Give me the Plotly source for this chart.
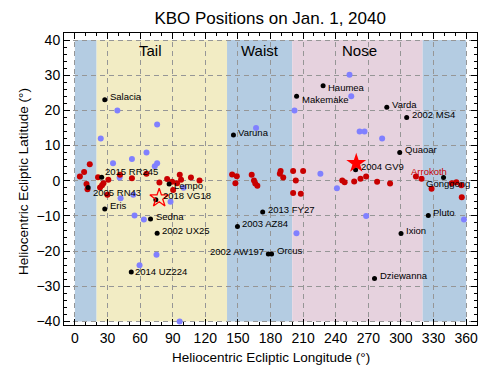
import plotly.graph_objects as go

# ---------------- data ----------------
named = ["Salacia", "2015 RR245", "2005 RN43", "Eris", "Lempo", "2018 VG18", "Sedna",
         "2002 UX25", "2014 UZ224", "Varuna", "Makemake", "Haumea", "2013 FY27",
         "2003 AZ84", "2002 AW197", "Orcus", "Varda", "2002 MS4", "Quaoar", "2004 GV9",
         "Gonggong", "Pluto", "Ixion", "Dziewanna"]
named_lon = [27.5, 24.7, 12.2, 27.5, 86.7, 74.5, 69.6, 75.7, 51.9, 145.9, 204.0, 228.4,
             172.8, 149.6, 178.0, 181.0, 287.0, 305.3, 298.9, 258.3, 339.2, 325.2, 300.1, 275.7]
named_lat = [23.0, 1.0, -1.9, -8.0, -0.9, -5.4, -10.9, -14.9, -25.9, 13.0, 24.0, 27.0,
             -8.9, -13.0, -20.8, -20.8, 20.9, 18.0, 8.0, 3.1, 0.9, -9.9, -15.0, -27.8]

red_lon = [4.6, 8.5, 13.7, 10.7, 11.6, 21.3, 23.2, 25.0, 26.3, 30.8, 29.9, 41.5, 52.5,
           65.9, 77.8, 84.9, 89.5, 90.4, 94.0, 96.5, 97.7, 106.8, 114.7, 144.7, 149.0,
           147.7, 162.7, 164.8, 166.0, 167.9, 188.6, 189.3, 191.7, 200.8, 210.0, 203.3,
           200.8, 207.9, 246.0, 248.2, 257.0, 262.8, 268.0, 278.1, 290.0, 319.0, 328.2,
           346.8, 351.0, 355.6, 356.0]
red_lat = [1.2, 2.5, 4.7, -0.9, -2.4, 1.0, -1.9, -1.3, -0.7, 0.3, -4.0, 1.7, 0.7,
           2.0, -0.5, 0.5, -0.3, -2.6, -0.7, 1.7, 0.3, 0.9, 0.1, 1.8, 1.3,
           -0.7, 1.7, 0.1, -0.8, -1.4, 2.0, 2.8, 0.9, 2.8, 2.8, 0.1,
           -3.5, -3.7, 0.1, -0.4, -0.2, 0.6, 1.2, -0.3, -0.8, 0.6, -2.3,
           -0.7, -0.4, -1.3, -4.7]

arrokoth_lon = [313.8]
arrokoth_lat = [1.2]

blue_lon = [39.1, 75.7, 23.8, 65.9, 52.5, 35.1, 75.7, 73.5, 41.2, 53.7, 42.1, 88.0,
            100.0, 54.9, 63.5, 75.1, 59.5, 96.4, 166.7, 202.1, 252.7, 254.3, 262.0,
            266.5, 282.7, 225.9, 241.1, 203.9, 268.0, 358.0]
blue_lat = [20.0, 16.0, 12.0, 8.0, 6.2, 5.0, 5.0, 4.1, 0.9, -4.0, -5.0, -6.0,
            -2.0, -9.9, -11.0, -21.0, -24.0, -40.0, 15.0, 20.0, 30.1, 24.0, 14.0,
            14.0, 12.0, 2.0, -2.1, -14.9, -10.0, -11.0]

nose_lon, nose_lat = [258.9], [5.0]
tail_lon, tail_lat = [77.6], [-4.9]

region_names = ["Tail", "Waist", "Nose"]
region_label_lon = [70, 170, 262]
region_start = [0, 20, 140, 200, 320]
region_end = [20, 140, 200, 320, 360]

x_ticks = [0, 30, 60, 90, 120, 150, 180, 210, 240, 270, 300, 330, 360]
y_ticks = [-40, -30, -20, -10, 0, 10, 20, 30, 40]

# ---------------- style ----------------
BLUE_BG = "rgb(180,204,226)"
YEL_BG = "rgb(242,236,196)"
PINK_BG = "rgb(230,210,222)"
region_colors = [BLUE_BG, YEL_BG, BLUE_BG, PINK_BG, BLUE_BG]
FONT = "Liberation Sans, Arial, Helvetica, sans-serif"

fig = go.Figure()

for x0, x1, c in zip(region_start, region_end, region_colors):
    fig.add_shape(type="rect", x0=x0, x1=x1, y0=-40, y1=40, xref="x", yref="y",
                  fillcolor=c, line_width=0, layer="below")

fig.add_trace(go.Scatter(x=blue_lon, y=blue_lat, mode="markers",
                         marker=dict(color="rgb(128,128,255)", size=6), hoverinfo="skip"))
fig.add_trace(go.Scatter(x=red_lon, y=red_lat, mode="markers",
                         marker=dict(color="rgb(200,0,0)", size=6), hoverinfo="skip"))
fig.add_trace(go.Scatter(x=arrokoth_lon, y=arrokoth_lat, mode="markers",
                         marker=dict(color="rgb(200,0,0)", size=6), hoverinfo="skip"))
fig.add_trace(go.Scatter(x=named_lon, y=named_lat, mode="markers",
                         marker=dict(color="black", size=5), hoverinfo="skip"))
fig.add_trace(go.Scatter(x=nose_lon, y=nose_lat, mode="markers",
                         marker=dict(color="red", size=15, symbol="star"), hoverinfo="skip"))
fig.add_trace(go.Scatter(x=tail_lon, y=tail_lat, mode="markers",
                         marker=dict(color="red", size=14, symbol="star-open",
                                     line=dict(color="red", width=1.3)), hoverinfo="skip"))

# label placement (anchor, xshift, yshift)
placement = {
    "2002 AW197": ("right", -2, 2),
    "Gonggong": ("left", -20, -6),
    "2015 RR245": ("left", 1, 6),
    "2005 RN43": ("left", 3, -5),
    "Lempo": ("left", 3, -2),
    "Makemake": ("left", 3, -3),
    "Haumea": ("left", 3, -2),
    "2014 UZ224": ("left", 2, 0),
    "2018 VG18": ("left", 5, 4),
}
for nm, lo, la in zip(named, named_lon, named_lat):
    anc, xs, ys = placement.get(nm, ("left", 3, 3))
    fig.add_annotation(x=lo, y=la, text=nm, showarrow=False, xanchor=anc, yanchor="middle",
                       xshift=xs, yshift=ys, font=dict(size=9.5, color="black", family=FONT))

fig.add_annotation(x=arrokoth_lon[0], y=arrokoth_lat[0], text="Arrokoth", showarrow=False,
                   xanchor="center", yanchor="middle", xshift=13, yshift=5,
                   font=dict(size=9.5, color="rgb(200,0,0)", family=FONT))

for nm, lo in zip(region_names, region_label_lon):
    fig.add_annotation(x=lo, y=37, text=nm, showarrow=False, xanchor="center",
                       yanchor="middle", font=dict(size=15, color="black", family=FONT))

# axis titles as annotations for precise placement
fig.add_annotation(x=0.5, y=0, xref="paper", yref="paper", text="Heliocentric Ecliptic Longitude (°)",
                   showarrow=False, xanchor="center", yanchor="middle", yshift=-32,
                   font=dict(size=13.5, color="black", family=FONT))
fig.add_annotation(x=0, y=0.5, xref="paper", yref="paper", text="Heliocentric Ecliptic Latitude (°)",
                   showarrow=False, xanchor="center", yanchor="middle", xshift=-41, yshift=-3,
                   textangle=-90, font=dict(size=13.5, color="black", family=FONT))

axis_common = dict(showline=True, linecolor="black", linewidth=1, mirror="ticks",
                   ticks="inside", ticklen=6, tickcolor="black", tickwidth=1,
                   showgrid=True, gridcolor="rgb(150,150,150)", griddash="5px,4px", gridwidth=1,
                   zeroline=False, automargin=False,
                   tickfont=dict(size=14, color="black", family=FONT))

fig.update_xaxes(range=[-10, 370], tickvals=x_ticks,
                 minor=dict(dtick=10, tick0=0, ticks="inside", ticklen=3,
                            tickcolor="black", showgrid=False),
                 **axis_common)
fig.update_yaxes(range=[-41, 42], tickvals=y_ticks,
                 minor=dict(dtick=2, tick0=0, ticks="inside", ticklen=3,
                            tickcolor="black", showgrid=False),
                 **axis_common)

fig.update_layout(
    width=491, height=360,
    margin=dict(l=56, r=22, t=25, b=43, autoexpand=False),
    title=dict(text="KBO Positions on Jan. 1, 2040", x=0.534, xanchor="center",
               y=0.972, yanchor="middle", font=dict(size=17, color="black", family=FONT)),
    paper_bgcolor="white", plot_bgcolor="white",
    showlegend=False,
)

fig.write_html("out.html")
